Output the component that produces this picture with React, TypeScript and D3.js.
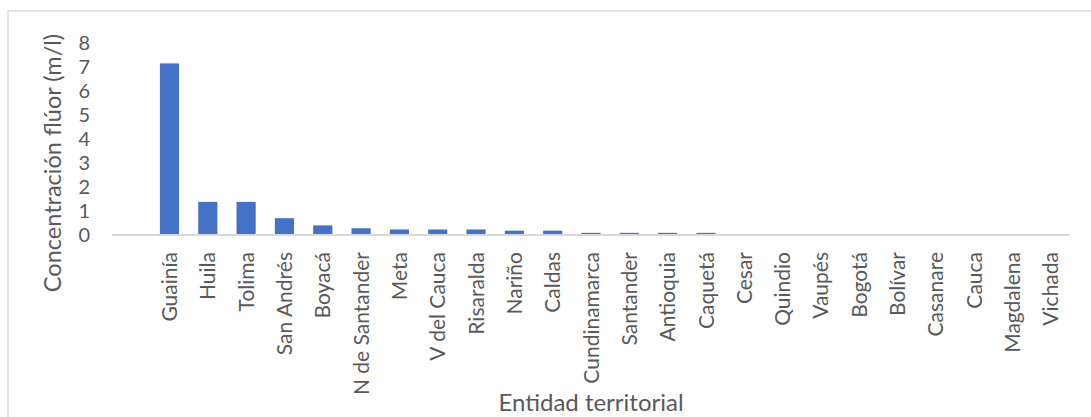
import React from "react";
import * as d3 from "d3";

const categories = [
  "Guainía", "Huila", "Tolima", "San Andrés", "Boyacá", "N de Santander", "Meta",
  "V del Cauca", "Risaralda", "Nariño", "Caldas", "Cundinamarca", "Santander",
  "Antioquia", "Caquetá", "Cesar", "Quindio", "Vaupés", "Bogotá", "Bolívar",
  "Casanare", "Cauca", "Magdalena", "Vichada",
];
const values = [
  7.15, 1.38, 1.38, 0.7, 0.4, 0.28, 0.23,
  0.23, 0.23, 0.18, 0.18, 0.09, 0.09,
  0.09, 0.09, 0, 0, 0, 0, 0,
  0, 0, 0, 0,
];
const yTicks = [0, 1, 2, 3, 4, 5, 6, 7, 8];
const yTitle = "Concentración flúor (m/l)";
const xTitle = "Entidad territorial";

const W = 1091;
const H = 417;
const axisX0 = 112;
const axisX1 = 1070;
const textColor = "#595959";
const font = "Lato, 'Open Sans', sans-serif";

export default function App() {
  const step = (axisX1 - axisX0) / (categories.length + 1);
  const x = d3
    .scaleBand<string>()
    .domain(categories)
    .range([axisX0 + step, axisX1])
    .paddingInner(0.5)
    .paddingOuter(0.25);
  const y = d3.scaleLinear().domain([0, 8]).range([235, 43]);

  return (
    <svg
      width={W}
      height={H}
      style={{ position: "absolute", left: 0, top: 0, background: "#fff" }}
      fontFamily={font}
    >
      <rect x={8} y={11} width={1100} height={430} fill="#fff" stroke="#d9d9d9" strokeWidth={1.5} />
      {categories.map((c, i) => {
        const v = values[i];
        if (v <= 0) return null;
        return (
          <rect
            key={c}
            x={x(c)}
            y={y(v)}
            width={x.bandwidth()}
            height={y(0) - y(v)}
            fill="#4472C4"
          />
        );
      })}
      <line x1={axisX0} x2={axisX1} y1={y(0)} y2={y(0)} stroke="#d9d9d9" strokeWidth={2} />
      {yTicks.map((t) => (
        <text
          key={t}
          x={90}
          y={y(t)}
          dy="0.36em"
          textAnchor="end"
          fontSize={20}
          fill={textColor}
        >
          {t}
        </text>
      ))}
      {categories.map((c) => (
        <text
          key={c}
          transform={`translate(${(x(c) ?? 0) + x.bandwidth() / 2},252) rotate(-90)`}
          dy="0.36em"
          textAnchor="end"
          fontSize={21}
          fill={textColor}
        >
          {c}
        </text>
      ))}
      <text
        transform={`translate(53,163) rotate(-90)`}
        dy="0.36em"
        textAnchor="middle"
        fontSize={23.5}
        fill={textColor}
      >
        {yTitle}
      </text>
      <text x={591} y={411} textAnchor="middle" fontSize={24} fill={textColor}>
        {xTitle}
      </text>
    </svg>
  );
}
